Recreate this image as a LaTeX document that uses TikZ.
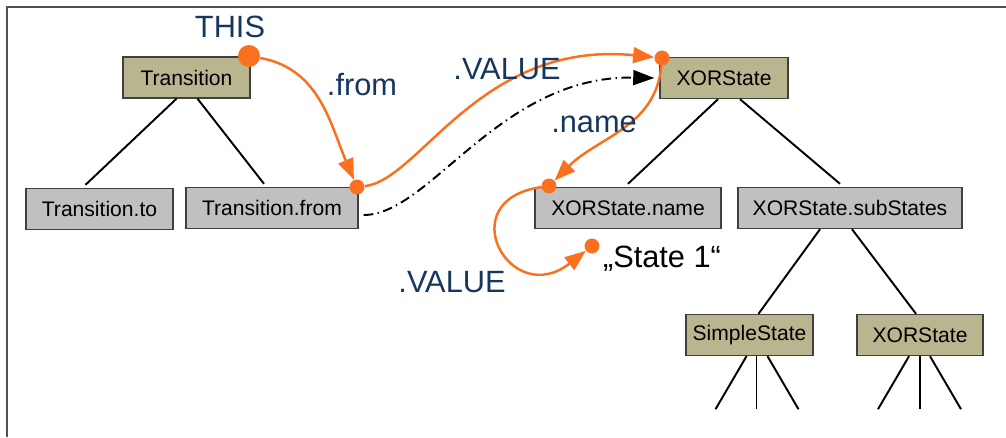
\documentclass[tikz,border=0pt]{standalone}
\usepackage{fontspec}
\setmainfont{Liberation Sans}
\usetikzlibrary{arrows.meta,calc}
\definecolor{kgold}{RGB}{184,181,143}
\definecolor{kgray}{RGB}{192,192,192}
\definecolor{korange}{RGB}{250,112,30}
\definecolor{knavy}{RGB}{23,54,93}
\definecolor{kframe}{RGB}{80,80,80}
\tikzset{
kbox/.style={draw=black!75,line width=0.8pt,inner sep=0pt,minimum height=0.82cm,font=\fontsize{12}{14}\selectfont},
ktype/.style={kbox,fill=kgold},
kattr/.style={kbox,fill=kgray},
kdot/.style={circle,fill=korange,inner sep=0pt,minimum size=8.5pt},
kpath/.style={draw=korange,line width=1.4pt,-{Triangle[length=12pt,width=9pt]}},
kdash/.style={line width=1.1pt,dash pattern=on 5.5pt off 2.5pt on 0.8pt off 2.5pt,-{Triangle[length=12pt,width=8.5pt]}},
klbl/.style={anchor=base,text=knavy,font=\fontsize{17.5}{20}\selectfont},
kedge/.style={line width=1.1pt},
}
\begin{document}
\begin{tikzpicture}[x=0.02cm,y=-0.02cm]
\useasboundingbox(0,0)rectangle(1006,437);
\draw[kframe,line width=0.85pt](7,437)--(7,7)--(1006,7);
\foreach \kname/\kx/\ky/\kw/\kt/\ktext in {trans/186.5/77.5/2.54/ktype/Transition,transTo/99.5/209/2.94/kattr/Transition.to,transFrom/272/208/3.44/kattr/Transition.from,xor/724/78/2.56/ktype/XORState,xorName/628/208/3.72/kattr/XORState.name,xorSub/850/208/4.48/kattr/XORState.subStates,simple/749.5/335/2.54/ktype/SimpleState,xorLeaf/920/335/2.52/ktype/XORState}{\node[\kt,minimum width=\kw cm](\kname)at(\kx,\ky){\ktext};}
\foreach \ka/\kb/\kdx/\kdy/\kgap in {trans/transTo/-10/-14/3,trans/transFrom/11/-8/3,xor/xorName/-6/0/3,xor/xorSub/16/-10/3,xorSub/simple/-30/9/0,xorSub/xorLeaf/2/-4/0}{\draw[kedge]($(\ka.south)+(\kdx,0)$)--($(\kb.north)+(\kdy,-\kgap)$);}
\foreach \kb/\kl/\km/\kr in {simple/-3/7/18,xorLeaf/-11/0/10}{
\draw[kedge]($(\kb.south)+(\kl,0)$)--++(-31,53);
\draw[kedge]($(\kb.south)+(\km,0)$)--++(0,53);
\draw[kedge]($(\kb.south)+(\kr,0)$)--++(31,53);}
\coordinate(dashA)at($(transFrom.east)+(5,7)$);
\coordinate(dashB)at($(xor.west)+(-5,0)$);
\draw[kdash](dashA)..controls(430,215)and(500,75)..(dashB);
\node[kdot,minimum size=12.5pt](thisDot)at(249,56){};
\node[kdot](fromDot)at(357,187){};
\node[kdot](xorDot)at(662,58){};
\node[kdot](nameDot)at(549,186){};
\node[kdot](stateDot)at(592,246){};
\draw[kpath](thisDot)to[out=-10,in=113](fromDot);
\draw[kpath](fromDot)..controls(420,180)and(480,40)..(xorDot);
\draw[kpath](xorDot)to[out=-95,in=45](nameDot);
\draw[kpath](nameDot)..controls(450,200)and(510,310)..(stateDot);
\node[klbl](thisLbl)at(230,37){THIS};
\node[klbl](fromLbl)at(362,95){.from};
\node[klbl](valLbl)at(507,79){.VALUE};
\node[klbl](nameLbl)at(594,132){.name};
\node[klbl](valLblB)at(452,292){.VALUE};
\node[klbl,text=black](stateLbl)at(662,267){„State 1“};
\end{tikzpicture}
\end{document}
